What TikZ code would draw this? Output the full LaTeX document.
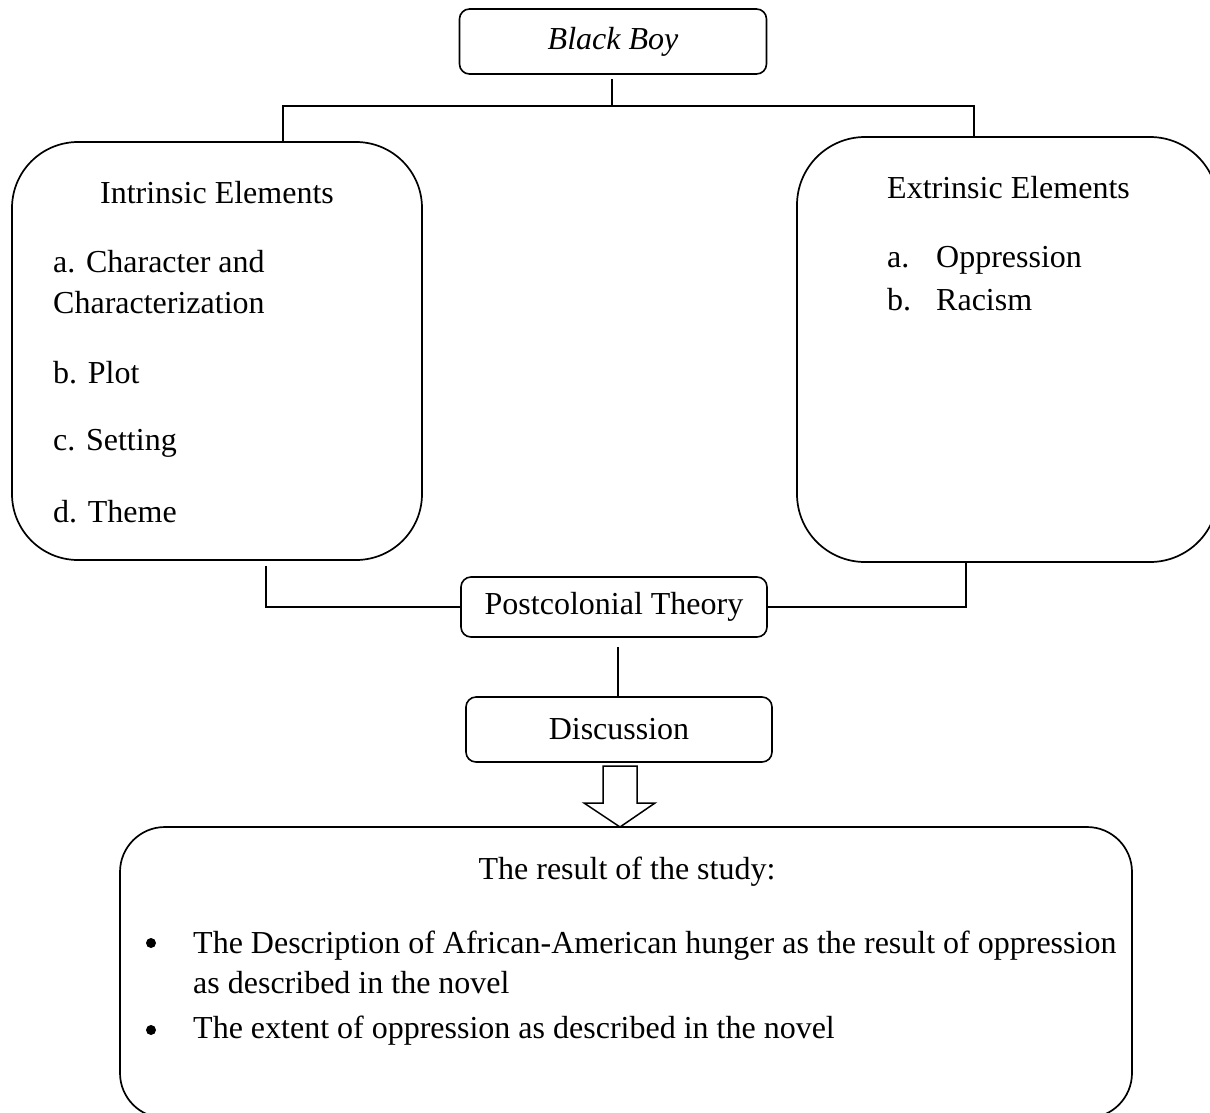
\documentclass[tikz,border=0pt]{standalone}
\usepackage{fontspec}
\setmainfont{Liberation Serif}
\begin{document}
\begin{tikzpicture}[x=1pt,y=-1pt,
  box/.style={draw, line width=1.6pt, rounded corners=10pt, inner sep=0pt, anchor=center},
  bigbox/.style={draw, line width=1.7pt, inner sep=0pt, anchor=center},
  conn/.style={line width=1.5pt},
  txt/.style={inner sep=0pt, font=\fontsize{32}{38}\selectfont},
  ]
\useasboundingbox (0,0) rectangle (1210,1112);
\clip (0,0) rectangle (1210,1112);

% boxes
\node[box, minimum width=307pt, minimum height=65pt, font=\fontsize{32}{38}\selectfont\itshape] (top) at (613,41.5) {Black Boy};
\node[bigbox, rounded corners=66pt, minimum width=410pt, minimum height=418pt] (intr) at (217,351) {};
\node[bigbox, rounded corners=68pt, minimum width=421pt, minimum height=425pt] (extr) at (1007.5,349.5) {};
\node[box, minimum width=306pt, minimum height=60pt, font=\fontsize{32}{38}\selectfont] (post) at (614,607) {Postcolonial Theory};
\node[box, minimum width=306pt, minimum height=65pt, font=\fontsize{32}{38}\selectfont] (disc) at (619,729.5) {Discussion};
\node[bigbox, rounded corners=45pt, minimum width=1012pt, minimum height=291pt] (res) at (626,972.5) {};

% texts in intrinsic box
\node[txt, anchor=base] (intrT) at (217,203) {Intrinsic Elements};
\node[txt, anchor=base west] (i1) at (53,272) {a. Character and};
\node[txt, anchor=base west] (i2) at (53,313) {Characterization};
\node[txt, anchor=base west] (i3) at (53,383) {b. Plot};
\node[txt, anchor=base west] (i4) at (53,450) {c. Setting};
\node[txt, anchor=base west] (i5) at (53,522) {d. Theme};

% texts in extrinsic box
\node[txt, anchor=base west] (extrT) at (887,198) {Extrinsic Elements};
\node[txt, anchor=base west] (e1a) at (887,267) {a.};
\node[txt, anchor=base west] (e1) at (936,267) {Oppression};
\node[txt, anchor=base west] (e2a) at (887,310) {b.};
\node[txt, anchor=base west] (e2) at (936,310) {Racism};

% result texts
\node[txt, anchor=base] (resT) at (627,879) {The result of the study:};
\fill (151,943) circle (5pt);
\fill (151,1030) circle (5pt);
\node[txt, anchor=base west] (r1) at (193,953) {The Description of African-American hunger as the result of oppression};
\node[txt, anchor=base west] (r2) at (193,993) {as described in the novel};
\node[txt, anchor=base west] (r3) at (193,1038) {The extent of oppression as described in the novel};

% connectors top
\coordinate (jt) at (612,106);
\coordinate (bl) at (283,106);
\coordinate (br) at (974,106);
\draw[conn, shorten <=4pt] (jt |- top.south) -- (jt);
\draw[conn] (bl |- intr.north) -- (bl) -- (br) -- (br |- extr.north);

% connectors to postcolonial
\coordinate (pl) at (266,607);
\coordinate (pr) at (966,607);
\draw[conn, shorten <=5pt] (pl |- intr.south) -- (pl) -- (post.west);
\draw[conn] (pr |- extr.south) -- (pr) -- (post.east);

% postcolonial to discussion
\coordinate (pd) at (618,0);
\draw[conn, shorten <=9pt] (pd |- post.south) -- (pd |- disc.north);

% block arrow
\draw[line width=1.5pt, fill=white, line join=miter] (603,766) -- (603,803) -- (584,803) -- (620,827) -- (655,803) -- (637,803) -- (637,766) -- cycle;
\end{tikzpicture}
\end{document}
